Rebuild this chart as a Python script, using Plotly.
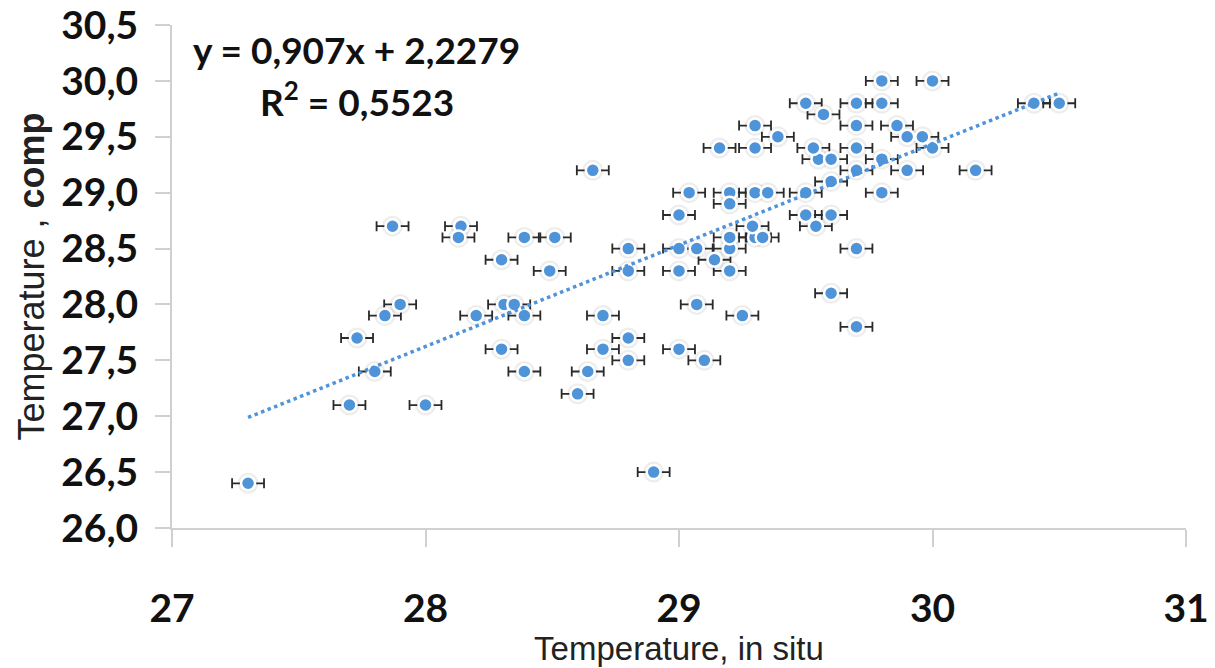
import numpy as np
import plotly.graph_objects as go

# Data
in_situ = [27.3, 27.7, 28.0, 27.73, 27.8, 27.84, 27.9, 27.87, 28.14, 28.13,
           28.2, 28.3, 28.31, 28.35, 28.3, 28.39, 28.51, 28.39, 28.39, 28.49,
           28.66, 28.6, 28.64, 28.7, 28.7, 28.8, 28.8, 28.8, 28.8, 28.9,
           29.0, 29.1, 29.07, 29.25, 29.0, 29.07, 29.14, 29.2, 29.0, 29.2,
           29.7, 29.6, 29.7, 29.0, 29.04, 29.2, 29.2, 29.2, 29.3, 29.33,
           29.29, 29.3, 29.35, 29.5, 29.5, 29.54, 29.6, 29.6, 29.8, 29.7,
           29.9, 30.17, 29.55, 29.6, 29.8, 29.16, 29.3, 29.53, 29.7, 30.0,
           29.39, 29.9, 29.96, 29.3, 29.7, 29.86, 29.57, 29.5, 29.7, 29.8,
           29.8, 30.0, 30.4, 30.5]
comp = [26.4, 27.1, 27.1, 27.7, 27.4, 27.9, 28.0, 28.7, 28.7, 28.6,
        27.9, 28.4, 28.0, 28.0, 27.6, 28.6, 28.6, 27.9, 27.4, 28.3,
        29.2, 27.2, 27.4, 27.6, 27.9, 27.7, 27.5, 28.5, 28.3, 26.5,
        27.6, 27.5, 28.0, 27.9, 28.5, 28.5, 28.4, 28.5, 28.3, 28.3,
        28.5, 28.1, 27.8, 28.8, 29.0, 29.0, 28.9, 28.6, 28.6, 28.6,
        28.7, 29.0, 29.0, 29.0, 28.8, 28.7, 28.8, 29.1, 29.0, 29.2,
        29.2, 29.2, 29.3, 29.3, 29.3, 29.4, 29.4, 29.4, 29.4, 29.4,
        29.5, 29.5, 29.5, 29.6, 29.6, 29.6, 29.7, 29.8, 29.8, 29.8,
        30.0, 30.0, 29.8, 29.8]
x_err = 0.063
slope, intercept = 0.907, 2.2279
x_ticks = [27, 28, 29, 30, 31]
y_ticks = [26.0, 26.5, 27.0, 27.5, 28.0, 28.5, 29.0, 29.5, 30.0, 30.5]
y_tick_labels = [f"{v:.1f}".replace(".", ",") for v in y_ticks]

BLUE = "#4F93D8"
tick_font = dict(family="Lato, Open Sans, sans-serif", size=39, color="#111111", weight="bold")

fig = go.Figure()

# soft halo (shadow) behind markers
fig.add_trace(go.Scatter(
    x=in_situ, y=comp, mode="markers",
    marker=dict(size=21, color="rgba(0,0,0,0.07)"),
    hoverinfo="skip", showlegend=False))

fig.add_trace(go.Scatter(
    x=in_situ, y=comp, mode="markers",
    marker=dict(size=14, color=BLUE, line=dict(color="white", width=2.5)),
    error_x=dict(type="constant", value=x_err, color="#2a2a2a", thickness=1.8, width=5),
    showlegend=False))

tx = np.array([min(in_situ), max(in_situ)])
fig.add_trace(go.Scatter(
    x=tx, y=slope * tx + intercept, mode="lines",
    line=dict(color=BLUE, width=3.5, dash="dot"),
    showlegend=False, hoverinfo="skip"))

fig.update_layout(
    width=1215, height=668,
    margin=dict(l=172, r=29, t=25, b=140),
    paper_bgcolor="white", plot_bgcolor="white",
    showlegend=False,
)

fig.update_xaxes(
    range=[27, 31], tickvals=x_ticks, ticktext=[str(v) for v in x_ticks],
    automargin=False, ticklabeloverflow="allow",
    showgrid=False, zeroline=False,
    showline=True, linecolor="#D0D0D0", linewidth=2,
    ticks="outside", ticklen=17, tickcolor="#D0D0D0", tickwidth=2,
    tickfont=tick_font, ticklabelstandoff=28,
    title=dict(text="Temperature, in situ",
               font=dict(family="Liberation Sans, Arial, sans-serif", size=33, color="#222222"),
               standoff=8),
)
fig.update_yaxes(
    range=[26, 30.5], tickvals=y_ticks, ticktext=y_tick_labels,
    automargin=False, ticklabeloverflow="allow",
    showgrid=False, zeroline=False,
    showline=True, linecolor="#D0D0D0", linewidth=2,
    ticks="outside", ticklen=15, tickcolor="#D0D0D0", tickwidth=2,
    tickfont=tick_font, ticklabelstandoff=9,
    title=dict(text="Temperature , <b>comp</b>",
               font=dict(family="Liberation Sans, Arial, sans-serif", size=36, color="#222222"),
               standoff=6),
)

eq_font = dict(family="Lato, Open Sans, sans-serif", size=37, color="#111111", weight="bold")
fig.add_annotation(x=0.182, y=0.952, xref="paper", yref="paper",
                   text=f"y = {str(slope).replace('.', ',')}x + {str(intercept).replace('.', ',')}",
                   showarrow=False, font=eq_font, xanchor="center", yanchor="middle")
fig.add_annotation(x=0.182, y=0.853, xref="paper", yref="paper",
                   text="R<sup>2</sup> = 0,5523",
                   showarrow=False, font=eq_font, xanchor="center", yanchor="middle")

fig.write_html("out.html",
               config={"displayModeBar": False},
               post_script="document.body.style.margin='0';document.body.style.overflow='hidden';")
